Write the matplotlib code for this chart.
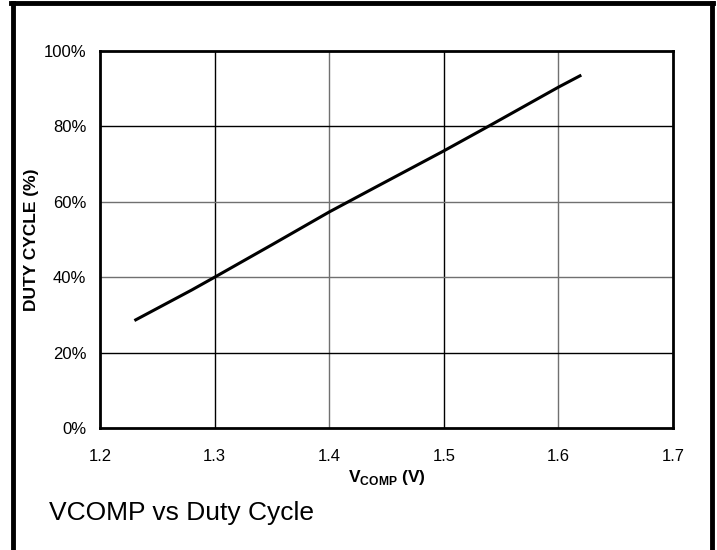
import numpy as np
import matplotlib
matplotlib.use('Agg')
import matplotlib.pyplot as plt
from matplotlib.lines import Line2D

# 数据
vcomp = [1.23, 1.28, 1.30, 1.35, 1.40, 1.44, 1.50, 1.54, 1.60, 1.62]
duty = [28.5, 36.6, 40.0, 48.6, 57.3, 63.8, 73.5, 80.2, 90.4, 93.6]
x_ticks = [1.2, 1.3, 1.4, 1.5, 1.6, 1.7]
y_ticks = [0, 20, 40, 60, 80, 100]

plt.rcParams['font.family'] = ['Liberation Sans', 'DejaVu Sans']

fig = plt.figure(figsize=(7.17, 5.5), dpi=100)
ax = fig.add_axes([0.1395, 0.2218, 0.7991, 0.6855])

# 网格
for i, xv in enumerate(x_ticks[1:-1]):
    ax.axvline(xv, color='black' if i % 2 == 0 else '#707070', lw=1.0, zorder=1)
for i, yv in enumerate(y_ticks[1:-1]):
    ax.axhline(yv, color='black' if yv in (20, 80) else '#707070', lw=1.0, zorder=1)

ax.plot(vcomp, duty, color='black', lw=2.2, zorder=3, solid_capstyle='butt')

ax.set_xlim(1.2, 1.7)
ax.set_ylim(0, 100)
ax.set_xticks(x_ticks)
ax.set_xticklabels([f'{v:.1f}' for v in x_ticks])
ax.set_yticks(y_ticks)
ax.set_yticklabels([f'{v}%' for v in y_ticks])
ax.tick_params(length=0, labelsize=12)
ax.tick_params(axis='x', pad=15)
ax.tick_params(axis='y', pad=10)
for s in ax.spines.values():
    s.set_linewidth(2.0)

ax.set_xlabel(r'V$_{\mathregular{COMP}}$ (V)', fontsize=12.5, fontweight='bold', labelpad=3)
ax.set_ylabel('DUTY CYCLE (%)', fontsize=12.5, fontweight='bold', labelpad=3)

fig.text(49 / 717, 1 - 513 / 550, 'VCOMP vs Duty Cycle', fontsize=19, va='center', ha='left')

# 外框
fig.add_artist(Line2D([12.5 / 717, 12.5 / 717], [0, 1 - 3 / 550], color='black', lw=3.5, transform=fig.transFigure))
fig.add_artist(Line2D([711.5 / 717, 711.5 / 717], [0, 1 - 3 / 550], color='black', lw=3.5, transform=fig.transFigure))
fig.add_artist(Line2D([11 / 717, 713 / 717], [1 - 3 / 550, 1 - 3 / 550], color='black', lw=3.5, transform=fig.transFigure))

fig.savefig('out.png', dpi=100)
plt.close(fig)
